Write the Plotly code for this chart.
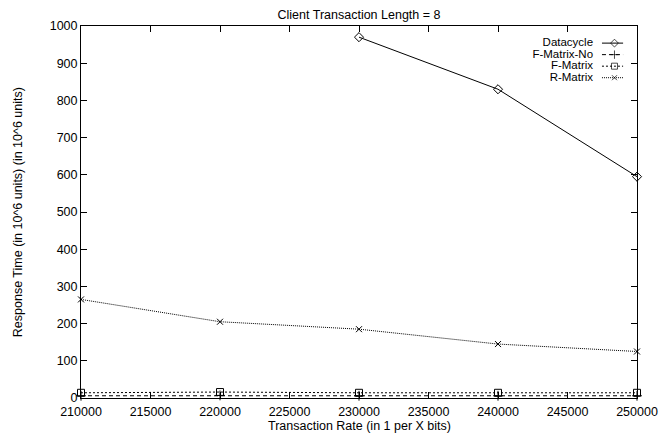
import plotly.graph_objects as go

# ---- data ----
rates = [210000, 220000, 230000, 240000, 250000]
datacycle_x = [230000, 240000, 250000]
datacycle_y = [970, 830, 595]
fmatrix_no = [6, 7, 6, 6, 6]
fmatrix = [14, 16, 14, 14, 14]
rmatrix = [265, 205, 185, 145, 125]
x_ticks = [210000, 215000, 220000, 225000, 230000, 235000, 240000, 245000, 250000]
y_ticks = [0, 100, 200, 300, 400, 500, 600, 700, 800, 900, 1000]
series_names = ["Datacycle", "F-Matrix-No", "F-Matrix", "R-Matrix"]

FONT = "Liberation Sans, Arial, Helvetica, sans-serif"
FS = 12.5
LEG_FS = 11.5
BLACK = "#000000"

styles = {
    "Datacycle": dict(dash="solid", symbol="diamond-open", msize=7),
    "F-Matrix-No": dict(dash="4px,3px", symbol="cross-thin-open", msize=7),
    "F-Matrix": dict(dash="2px,2px", symbol="square-open", msize=7),
    "R-Matrix": dict(dash="1px,1px", symbol="x-thin-open", msize=6),
}
series_data = {
    "Datacycle": (datacycle_x, datacycle_y),
    "F-Matrix-No": (rates, fmatrix_no),
    "F-Matrix": (rates, fmatrix),
    "R-Matrix": (rates, rmatrix),
}

fig = go.Figure()
for name in series_names:
    xs, ys = series_data[name]
    st = styles[name]
    fig.add_trace(go.Scatter(
        x=xs, y=ys, mode="lines+markers", name=name, showlegend=False,
        line=dict(color=BLACK, width=1, dash=st["dash"]),
        marker=dict(symbol=st["symbol"], size=st["msize"], color=BLACK,
                    line=dict(color=BLACK, width=1)),
        cliponaxis=False,
    ))

# ---- custom gnuplot-style legend (text left, sample right) ----
leg_text_x = 0.921
leg_x0, leg_xm, leg_x1 = 0.937, 0.9595, 0.975
leg_rows = [0.954, 0.923, 0.892, 0.861]
for name, yy in zip(series_names, leg_rows):
    st = styles[name]
    fig.add_trace(go.Scatter(
        x=[leg_text_x], y=[yy], xaxis="x2", yaxis="y2", mode="text",
        text=[name], textposition="middle left", showlegend=False, hoverinfo="skip",
        textfont=dict(family=FONT, size=LEG_FS, color=BLACK), cliponaxis=False,
    ))
    fig.add_trace(go.Scatter(
        x=[leg_x0, leg_xm, leg_x1], y=[yy, yy, yy], xaxis="x2", yaxis="y2",
        mode="lines+markers", showlegend=False, hoverinfo="skip",
        line=dict(color=BLACK, width=1, dash=st["dash"]),
        marker=dict(symbol=st["symbol"], size=[0, st["msize"] - 1, 0], color=BLACK,
                    line=dict(color=BLACK, width=1)),
        cliponaxis=False,
    ))

annotations = [
    dict(x=0.5, y=-0.075, xref="paper", yref="paper",
         text="Transaction Rate (in 1 per X bits)", showarrow=False,
         xanchor="center", yanchor="middle", font=dict(family=FONT, size=FS, color=BLACK)),
    dict(x=-0.113, y=0.5, xref="paper", yref="paper",
         text="Response Time (in 10^6 units) (in 10^6 units)", showarrow=False,
         textangle=-90, xanchor="center", yanchor="middle",
         font=dict(family=FONT, size=FS, color=BLACK)),
]

axis_common = dict(
    showgrid=False, zeroline=False, showline=True, linecolor=BLACK, linewidth=1,
    mirror="ticks", ticks="inside", ticklen=6, tickwidth=1, tickcolor=BLACK,
    tickfont=dict(family=FONT, size=FS, color=BLACK),
)

fig.update_layout(
    width=672, height=435,
    margin=dict(l=81, r=35, t=26, b=37),
    paper_bgcolor="white", plot_bgcolor="white",
    title=dict(text="Client Transaction Length = 8", x=0.5, xref="paper",
               y=1 - 15 / 435, yref="container", xanchor="center", yanchor="middle",
               font=dict(family=FONT, size=FS, color=BLACK)),
    xaxis=dict(range=[210000, 250000], tickvals=x_ticks,
               ticktext=[str(v) for v in x_ticks], ticklabelstandoff=2, **axis_common),
    yaxis=dict(range=[0, 1000], tickvals=y_ticks,
               ticktext=[str(v) for v in y_ticks], **axis_common),
    xaxis2=dict(range=[0, 1], overlaying="x", visible=False),
    yaxis2=dict(range=[0, 1], overlaying="y", visible=False),
    annotations=annotations,
    showlegend=False,
)

fig.write_html("out.html")
